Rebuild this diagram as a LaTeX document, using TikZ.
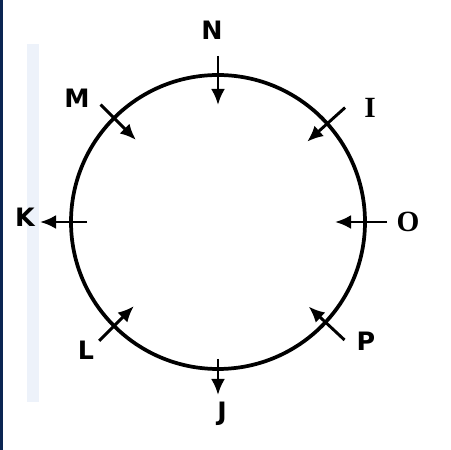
\documentclass[tikz,border=0pt]{standalone}
\usepackage{fontspec}
\newfontfamily\sanslbl{DejaVu Sans}
\newfontfamily\seriflbl{Liberation Serif}
\usetikzlibrary{arrows.meta}
\definecolor{navybar}{HTML}{0B2552}
\definecolor{palebar}{HTML}{EDF2FA}
\tikzset{
  lbl/.style={font=\sanslbl\bfseries\fontsize{19}{19}\selectfont, inner sep=0pt},
  slbl/.style={font=\seriflbl\bfseries\fontsize{22}{22}\selectfont, inner sep=0pt},
  pointer/.style={-{Latex[length=12pt,width=10.5pt]}, line width=2.2pt},
}
\begin{document}
\begin{tikzpicture}[x=0.75pt,y=0.75pt]
      \useasboundingbox (0,0) rectangle (451,450);
      % Side bars
      \fill[navybar] (0,0) rectangle (3,450);
      \fill[palebar] (27,48) rectangle (39,406);

      % Draw the circle
      \coordinate (c) at (218,228);
      \draw[line width=2.8pt] (c) circle [radius=147];

      % Draw the letters
      \node[lbl] at (212,420) (N) {N};
      \node[lbl] at (77,352) (M) {M};
      \node[slbl] at (370,342) (I) {I};
      \node[lbl] at (25,233) (K) {K};
      \node[slbl] at (408,228) (O) {O};
      \node[lbl] at (86,100) (L) {L};
      \node[lbl] at (366,109) (P) {P};
      \node[lbl] at (222,36) (J) {J};

      % Arrow ends
      \coordinate (n1) at ([shift={(90:166)}]c);
      \coordinate (n2) at ([shift={(90:117)}]c);
      \coordinate (m1) at ([shift={(135:166)}]c);
      \coordinate (m2) at ([shift={(135:116)}]c);
      \coordinate (i1) at ([shift={(42:171)}]c);
      \coordinate (i2) at ([shift={(42:120)}]c);
      \coordinate (k1) at ([shift={(180:131)}]c);
      \coordinate (k2) at ([shift={(180:178)}]c);
      \coordinate (o1) at ([shift={(0:169)}]c);
      \coordinate (o2) at ([shift={(0:117)}]c);
      \coordinate (l1) at ([shift={(225:168)}]c);
      \coordinate (l2) at ([shift={(225:119)}]c);
      \coordinate (p1) at ([shift={(-43:173)}]c);
      \coordinate (p2) at ([shift={(-43:124)}]c);
      \coordinate (j1) at ([shift={(270:137)}]c);
      \coordinate (j2) at ([shift={(270:173)}]c);

      % Draw the arrows
      \draw[pointer] (n1) -- (n2);
      \draw[pointer] (m1) -- (m2);
      \draw[pointer] (i1) -- (i2);
      \draw[pointer] (k1) -- (k2);
      \draw[pointer] (o1) -- (o2);
      \draw[pointer] (l1) -- (l2);
      \draw[pointer] (p1) -- (p2);
      \draw[pointer] (j1) -- (j2);
    \end{tikzpicture}
\end{document}
